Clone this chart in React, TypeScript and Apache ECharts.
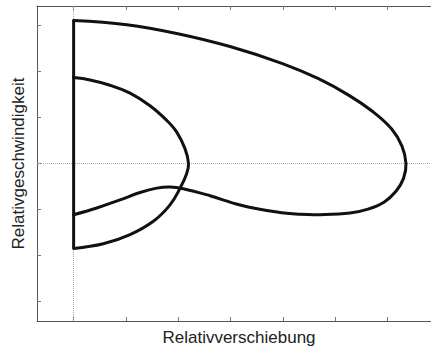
import React, { useEffect, useRef } from "react";
import * as echarts from "echarts";

// Relative displacement (x) vs. relative velocity (y) loops
const outerLoop: [number, number][] = [
  [0, 3.115], [1.015, 3.024], [1.97, 2.833], [2.988, 2.548], [3.991, 2.177],
  [4.669, 1.852], [5.262, 1.484], [5.721, 1.126], [6.078, 0.751], [6.274, 0.379],
  [6.351, 0], [6.304, -0.324], [6.16, -0.605], [5.93, -0.842], [5.625, -0.993],
  [5.281, -1.079], [4.708, -1.114], [4.326, -1.106], [3.886, -1.058], [3.179, -0.902],
  [2.606, -0.702], [2.096, -0.549], [1.842, -0.511], [1.588, -0.536], [1.269, -0.632],
  [0.887, -0.792], [0.441, -0.97], [0, -1.116],
];

const innerLoop: [number, number][] = [
  [0, 1.871], [0.313, 1.82], [0.695, 1.705], [1.078, 1.532], [1.46, 1.258],
  [1.779, 0.939], [1.97, 0.684], [2.128, 0.324], [2.195, 0], [2.161, -0.216],
  [2.033, -0.54], [1.842, -0.9], [1.523, -1.258], [1.078, -1.548], [0.567, -1.748],
  [0, -1.85],
];

const edgeLine: [number, number][] = [
  [0, 3.115], [0, -1.85],
];

const xTicks = [0, 1, 2, 3, 4, 5, 6, 7];
const yTicks = [-3, -2, -1, 0, 1, 2, 3];

const xName = "Relativverschiebung";
const yName = "Relativgeschwindigkeit";

const INK = "#111";

// One smooth curve through all points of a loop, mapped with the axes' scales
function curveSeries(points: [number, number][]) {
  return {
    type: "custom",
    data: points,
    z: 3,
    silent: true,
    clip: false,
    renderItem: (params: any, api: any) => {
      if (params.dataIndex !== 0) return null;
      const pts = points.map((p) => api.coord(p));
      return {
        type: "polyline",
        shape: { points: pts, smooth: 0.4 },
        style: { stroke: INK, lineWidth: 3, fill: "none", lineJoin: "round", lineCap: "round" },
      };
    },
  };
}

export default function App() {
  const ref = useRef<HTMLDivElement>(null);

  useEffect(() => {
    if (!ref.current) return;
    const chart = echarts.init(ref.current, undefined, { renderer: "svg" });
    const axisLine = { show: true, onZero: false, lineStyle: { color: "#555", width: 1 } };
    const tick = (vals: number[]) => ({
      show: true,
      inside: true,
      length: 4,
      customValues: vals,
      lineStyle: { color: "#777", width: 1 },
    });
    const font = "Liberation Sans, Arial, sans-serif";
    const xMin = -0.7;
    const xMax = 7.02;

    chart.setOption({
      animation: false,
      backgroundColor: "#fff",
      // the plot box runs on past the right edge of the visible page
      grid: { left: 37, top: 6, right: 10, bottom: 27 },
      xAxis: [
        {
          type: "value",
          min: xMin,
          max: xMax,
          position: "bottom",
          axisLine,
          axisTick: tick(xTicks),
          axisLabel: { show: false },
          splitLine: { show: false },
          name: xName,
          nameLocation: "middle",
          nameGap: 8,
          nameTextStyle: { fontFamily: font, fontSize: 17, color: "#222", verticalAlign: "top" },
        },
        {
          type: "value",
          min: xMin,
          max: xMax,
          position: "top",
          axisLine,
          axisTick: tick(xTicks),
          axisLabel: { show: false },
          splitLine: { show: false },
        },
      ],
      yAxis: [
        {
          type: "value",
          min: -3.43,
          max: 3.43,
          position: "left",
          axisLine,
          axisTick: tick(yTicks),
          axisLabel: { show: false },
          splitLine: { show: false },
          name: yName,
          nameLocation: "middle",
          nameRotate: 90,
          nameGap: 10,
          nameTextStyle: { fontFamily: font, fontSize: 17, color: "#222" },
        },
      ],
      series: [
        {
          // zero reference lines, drawn beneath the loops
          type: "line",
          data: [],
          z: 1,
          markLine: {
            silent: true,
            z: 1,
            symbol: "none",
            label: { show: false },
            lineStyle: { color: "#aaa", type: "dotted", width: 1 },
            data: [{ xAxis: 0 }, { yAxis: 0 }],
          },
        },
        {
          type: "line",
          data: edgeLine,
          symbol: "none",
          lineStyle: { color: INK, width: 3 },
          z: 3,
        },
        curveSeries(outerLoop),
        curveSeries(innerLoop),
      ],
    });
    return () => chart.dispose();
  }, []);

  return (
    <div
      style={{
        position: "absolute",
        left: 0,
        top: 0,
        width: 431,
        height: 351,
        overflow: "hidden",
      }}
    >
      <div ref={ref} style={{ width: 451, height: 351 }} />
    </div>
  );
}
